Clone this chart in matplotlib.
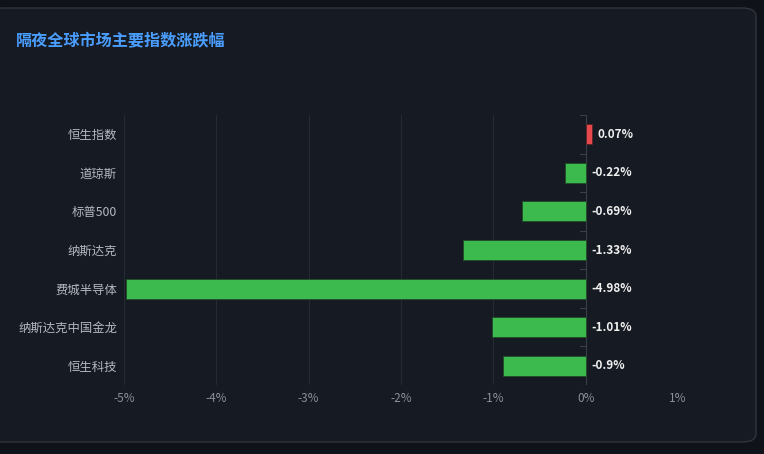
import matplotlib.pyplot as plt
from matplotlib.patches import FancyBboxPatch

plt.rcParams['font.family'] = ['Noto Sans CJK SC', 'DejaVu Sans']

# --- data ---
names = ['恒生指数', '道琼斯', '标普500', '纳斯达克', '费城半导体', '纳斯达克中国金龙', '恒生科技']
changes = [0.07, -0.22, -0.69, -1.33, -4.98, -1.01, -0.9]
value_labels = ['0.07%', '-0.22%', '-0.69%', '-1.33%', '-4.98%', '-1.01%', '-0.9%']
xticks = [-5, -4, -3, -2, -1, 0, 1]
xtick_labels = ['-5%', '-4%', '-3%', '-2%', '-1%', '0%', '1%']

outer_bg = '#0f1218'
card_bg = '#161a22'
green = '#3dba4e'
red = '#e5484d'

fig = plt.figure(figsize=(7.64, 4.54), dpi=100)
fig.patch.set_facecolor(outer_bg)

# rounded card behind the chart
W, H = 764, 454
card = FancyBboxPatch((-10 / W, 12 / H), 766 / W, 434 / H,
                      boxstyle='round,pad=0,rounding_size=0.018',
                      transform=fig.transFigure, facecolor=card_bg,
                      edgecolor='#30343d', linewidth=1, zorder=-10)
fig.patches.append(card)

fig.text(16 / W, 1 - 41 / H, '隔夜全球市场主要指数涨跌幅', color='#4a9eff',
         fontsize=11.6, fontweight='bold', va='center', ha='left')

ax = fig.add_axes([124 / W, 1 - 385 / H, 554 / W, 270 / H])
ax.set_facecolor('none')
ax.set_zorder(5)

ypos = list(range(len(names)))
colors = [red if v >= 0 else green for v in changes]
edges = ['#5a2326' if v >= 0 else '#1f4a28' for v in changes]
ax.barh(ypos, changes, height=0.52, color=colors, edgecolor=edges,
        linewidth=0.6, zorder=3)

for y, v, lab in zip(ypos, changes, value_labels):
    x = max(v, 0) + 0.06
    ax.text(x, y, lab, color='#f0f0f0', fontsize=8.5, fontweight='bold',
            va='center', ha='left', zorder=4)

ax.set_xlim(-5, 1)
ax.set_ylim(len(names) - 0.5, -0.5)
ax.set_xticks(xticks)
ax.set_xticklabels(xtick_labels)
ax.set_yticks(ypos)
ax.set_yticklabels(names)

ax.tick_params(axis='x', colors='#8a8f98', labelsize=8.5, length=0, pad=5)
ax.tick_params(axis='y', colors='#b4b8c0', labelsize=8.9, length=0, pad=5)
for lab in ax.get_xticklabels():
    lab.set_color('#8a8f98')
for lab in ax.get_yticklabels():
    lab.set_color('#b4b8c0')

ax.grid(axis='x', color='#262a33', linewidth=0.8, zorder=0)
ax.grid(axis='y', visible=False)
for s in ax.spines.values():
    s.set_visible(False)

# zero axis line with small ticks between categories
ax.axvline(0, color='#3a3f48', linewidth=0.8, zorder=2)
for b in [i - 0.5 for i in range(len(names) + 1)]:
    ax.plot([-0.06, 0], [b, b], color='#3a3f48', linewidth=0.8, zorder=2)

fig.savefig('out.png', dpi=100, facecolor=outer_bg)
